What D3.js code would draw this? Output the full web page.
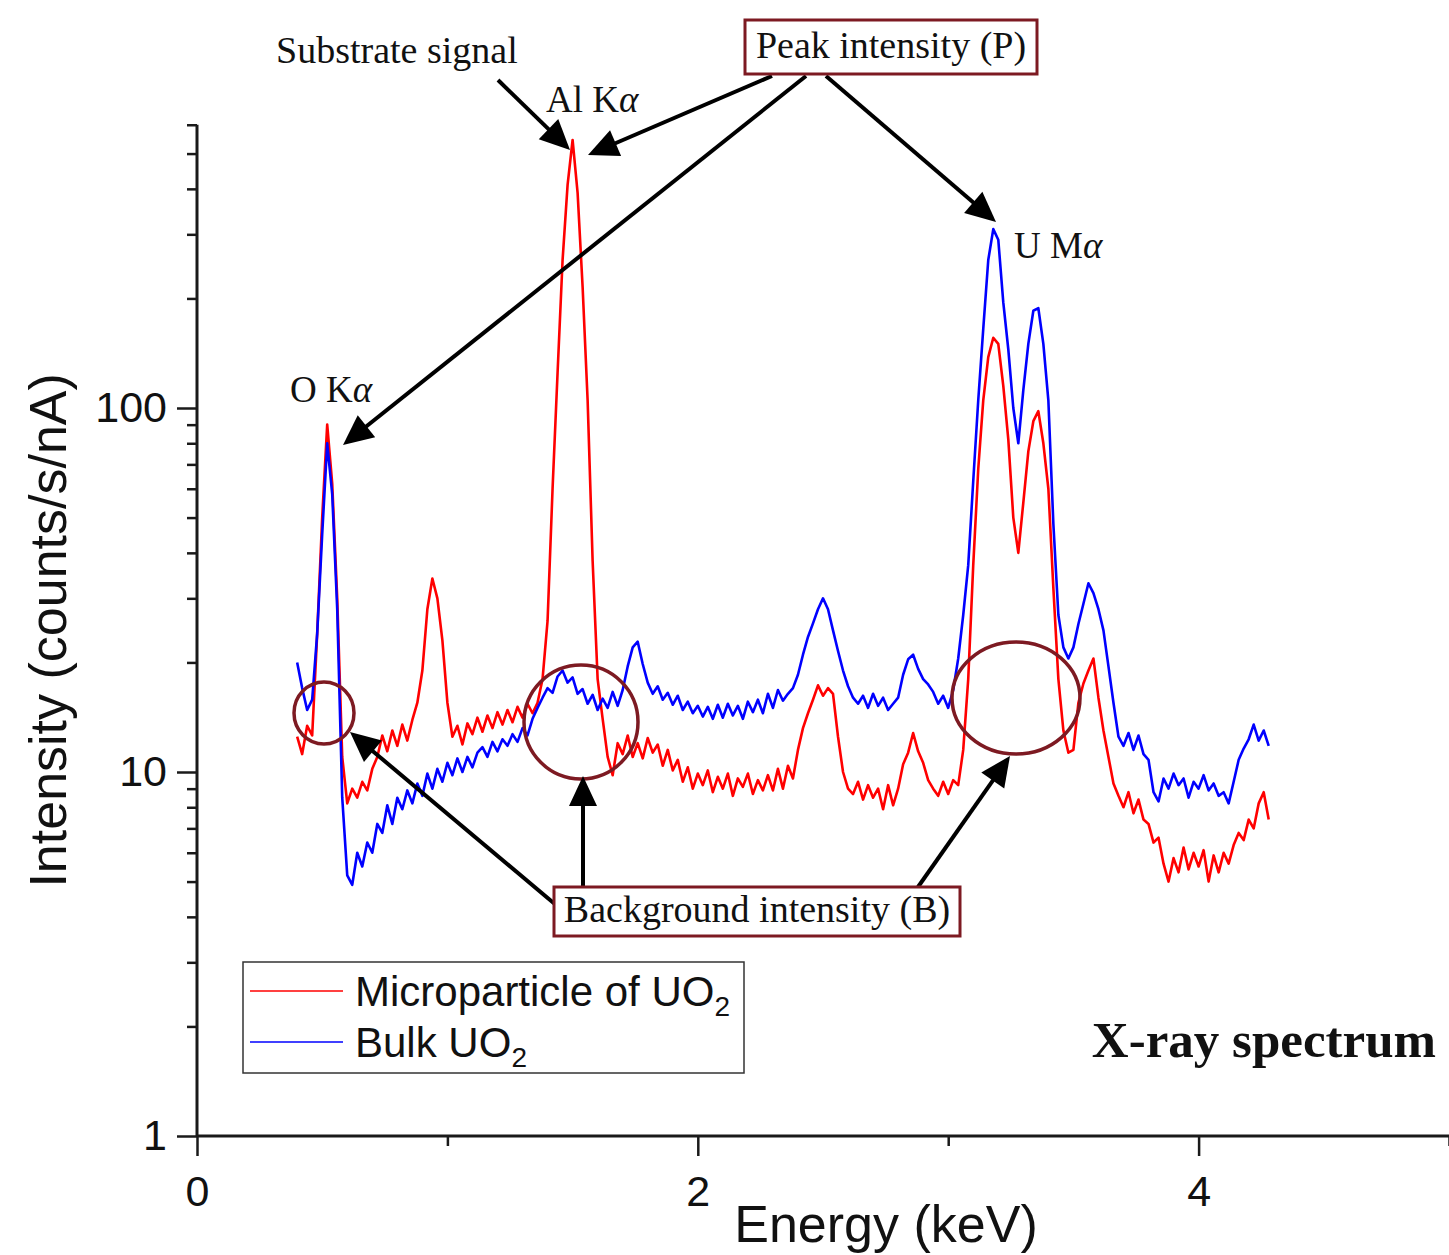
<!DOCTYPE html>
<html><head><meta charset="utf-8">
<script src="https://cdn.jsdelivr.net/npm/d3@7"></script>
<style>body{margin:0;background:#fff}svg{display:block}</style>
</head><body><svg id="c" width="1449" height="1255"></svg>
<script>
// Energy (keV)
const energy = [
0.40,0.42,0.44,0.46,0.48,0.50,0.52,0.54,0.56,0.58,
0.60,0.62,0.64,0.66,0.68,0.70,0.72,0.74,0.76,0.78,
0.80,0.82,0.84,0.86,0.88,0.90,0.92,0.94,0.96,0.98,
1.00,1.02,1.04,1.06,1.08,1.10,1.12,1.14,1.16,1.18,
1.20,1.22,1.24,1.26,1.28,1.30,1.32,1.34,1.36,1.38,
1.40,1.42,1.44,1.46,1.48,1.50,1.52,1.54,1.56,1.58,
1.60,1.62,1.64,1.66,1.68,1.70,1.72,1.74,1.76,1.78,
1.80,1.82,1.84,1.86,1.88,1.90,1.92,1.94,1.96,1.98,
2.00,2.02,2.04,2.06,2.08,2.10,2.12,2.14,2.16,2.18,
2.20,2.22,2.24,2.26,2.28,2.30,2.32,2.34,2.36,2.38,
2.40,2.42,2.44,2.46,2.48,2.50,2.52,2.54,2.56,2.58,
2.60,2.62,2.64,2.66,2.68,2.70,2.72,2.74,2.76,2.78,
2.80,2.82,2.84,2.86,2.88,2.90,2.92,2.94,2.96,2.98,
3.00,3.02,3.04,3.06,3.08,3.10,3.12,3.14,3.16,3.18,
3.20,3.22,3.24,3.26,3.28,3.30,3.32,3.34,3.36,3.38,
3.40,3.42,3.44,3.46,3.48,3.50,3.52,3.54,3.56,3.58,
3.60,3.62,3.64,3.66,3.68,3.70,3.72,3.74,3.76,3.78,
3.80,3.82,3.84,3.86,3.88,3.90,3.92,3.94,3.96,3.98,
4.00,4.02,4.04,4.06,4.08,4.10,4.12,4.14,4.16,4.18,
4.20,4.22,4.24,4.26,4.28];

// Microparticle of UO2 (counts/s/nA)
const microparticle = [
12.5,11.2,13.4,12.6,24,50,90,62,30,11,
8.2,9.0,8.5,9.4,8.9,10.2,11.0,12.6,11.4,13.0,
11.8,13.5,12.2,13.9,15.5,19,28,34,30,23,
15.5,12.5,13.4,11.9,13.6,12.7,14.1,12.9,14.3,13.2,
14.6,13.5,14.8,13.7,15.1,14.1,15.4,14.5,15.5,18,
26,60,125,255,410,545,390,215,105,38,
18,14,11,9.8,12.0,11.2,12.6,11.0,12.0,10.9,
12.4,11.3,11.9,10.4,11.5,10.1,10.8,9.4,10.3,9.0,
9.9,9.2,10.1,8.8,9.7,9.0,9.9,8.6,9.6,9.1,
9.9,8.7,9.5,8.9,9.8,8.9,10.2,9.0,10.4,9.6,
11.5,13.2,14.5,15.8,17.3,16.2,17.0,16.4,12.5,10.0,
9.0,8.7,9.4,8.4,9.2,8.5,9.0,7.9,9.2,8.1,
9.0,10.5,11.3,12.8,11.4,10.6,9.5,9.0,8.6,9.4,
8.7,9.5,9.2,11.5,18,37,68,105,138,156,
150,115,82,50,40,55,76,92,98,80,
60,32,18,13,11.3,11.5,15.5,17.5,19,20.5,
16,13,11,9.3,8.6,8.0,8.8,7.7,8.4,7.4,
7.2,6.4,6.6,5.6,5.0,5.8,5.3,6.2,5.4,6.0,
5.5,6.1,5.0,5.9,5.3,6.0,5.6,6.3,6.8,6.5,
7.4,7.0,8.2,8.8,7.4];

// Bulk UO2 (counts/s/nA)
const bulk = [
20.0,17.0,14.8,15.8,24,45,80,58,28,8.5,
5.2,4.9,6.0,5.5,6.4,6.0,7.2,6.8,8.1,7.2,
8.5,7.9,8.9,8.2,9.3,8.6,9.9,9.0,10.2,9.4,
10.6,9.8,10.9,10.0,11.0,10.3,11.3,11.7,11.0,12.1,
11.4,12.3,11.8,12.7,12.1,13.2,12.6,14.0,15.0,16.0,
17.0,16.5,18.3,19.0,17.6,18.2,16.4,16.9,15.4,16.3,
14.8,15.9,15.0,16.6,15.2,16.8,19.5,22.0,22.8,19.8,
17.6,16.4,17.2,15.8,16.5,15.3,16.2,14.8,15.6,14.5,
15.2,14.2,15.1,14.0,15.3,14.1,15.4,14.3,15.2,14.0,
15.6,14.6,15.8,14.5,16.4,15.0,16.8,15.7,16.4,17.0,
18.5,21.0,23.5,25.6,28.0,30.0,28.0,24.5,21.5,19.0,
17.2,16.0,15.4,16.2,15.0,16.4,15.2,16.0,14.8,15.4,
16.0,18.5,20.4,21.0,19.2,18.0,17.4,16.6,15.4,16.2,
15.0,16.8,20.5,27,37,63,105,165,255,310,
290,195,145,100,80,112,150,185,188,150,
105,48,27,22,20.5,22,25.5,29,33,31,
28,24.5,19.5,15.5,12.5,11.8,12.8,11.5,12.6,11.2,
10.8,8.8,8.3,9.6,9.0,9.9,9.2,9.6,8.5,9.4,
9.0,9.8,8.9,9.3,8.6,8.8,8.2,9.4,10.8,11.6,
12.3,13.5,12.2,13.0,11.8];

const seriesNames = ["Microparticle of UO", "Bulk UO"];
const seriesColors = ["#ff0000", "#0000ff"];
const xMajorTicks = [0, 2, 4];
const xMinorTicks = [1, 3, 5];
const yMajorTicks = [1, 10, 100];
const yTickLabels = ["1", "10", "100"];

const W = 1449, H = 1255;
const svg = d3.select("#c");
svg.append("rect").attr("width", W).attr("height", H).attr("fill", "#fff");

const x = d3.scaleLinear().domain([0, 5]).range([197, 1449]);
const y = d3.scaleLog().domain([1, 600]).range([1136, 1136 - 364 * Math.log10(600)]);

const sans = "'Liberation Sans', Arial, sans-serif";
const serif = "'Liberation Serif', 'Times New Roman', serif";
const axisColor = "#1a1a1a";
const boxRed = "#7d1a22";

// ---- axes ----
const yMinor = y.ticks().filter(v => !yMajorTicks.includes(v));
const gyMinor = svg.append("g").attr("transform", `translate(${x(0)},0)`)
  .call(d3.axisLeft(y).tickValues(yMinor).tickSize(10).tickFormat(""));
const gyMajor = svg.append("g").attr("transform", `translate(${x(0)},0)`)
  .call(d3.axisLeft(y).tickValues(yMajorTicks).tickSize(20).tickPadding(10)
    .tickFormat((d, i) => yTickLabels[i]));
const gxMinor = svg.append("g").attr("transform", `translate(0,${y(1)})`)
  .call(d3.axisBottom(x).tickValues(xMinorTicks).tickSize(10).tickFormat(""));
const gxMajor = svg.append("g").attr("transform", `translate(0,${y(1)})`)
  .call(d3.axisBottom(x).tickValues(xMajorTicks).tickSize(20).tickPadding(19)
    .tickFormat(d3.format("d")));
[gyMinor, gyMajor, gxMinor, gxMajor].forEach(g => {
  g.select(".domain").remove();
  g.selectAll(".tick line").attr("stroke", axisColor).attr("stroke-width", 2.5);
  g.selectAll(".tick text").attr("fill", "#111").attr("font-family", sans).attr("font-size", 43);
});
svg.append("line").attr("x1", x(0)).attr("x2", x(0)).attr("y1", y(600)).attr("y2", y(1))
  .attr("stroke", axisColor).attr("stroke-width", 3);
svg.append("line").attr("x1", x(0)).attr("x2", x(5)).attr("y1", y(1)).attr("y2", y(1))
  .attr("stroke", axisColor).attr("stroke-width", 3);

// axis titles
svg.append("text").attr("transform", `translate(66,${(y(1) + y(600)) / 2}) rotate(-90)`)
  .attr("text-anchor", "middle").attr("font-family", sans).attr("font-size", 52).attr("fill", "#111")
  .text("Intensity (counts/s/nA)");
svg.append("text").attr("x", 886).attr("y", 1242).attr("text-anchor", "middle")
  .attr("font-family", sans).attr("font-size", 52).attr("fill", "#111").text("Energy (keV)");

// ---- data lines ----
const line = d3.line().x((d, i) => x(energy[i])).y(d => y(d));
[microparticle, bulk].forEach((s, k) => {
  svg.append("path").datum(s).attr("d", line).attr("fill", "none")
    .attr("stroke", seriesColors[k]).attr("stroke-width", 2.6).attr("stroke-linejoin", "round");
});

// ---- ellipses ----
const ell = [[324, 713, 30, 31], [581, 722, 57, 57], [1016, 698, 64, 56]];
ell.forEach(e => svg.append("ellipse").attr("cx", e[0]).attr("cy", e[1]).attr("rx", e[2]).attr("ry", e[3])
  .attr("fill", "none").attr("stroke", boxRed).attr("stroke-width", 3.5));

// ---- arrows ----
function arrow(x1, y1, x2, y2) {
  const dx = x2 - x1, dy = y2 - y1, L = Math.hypot(dx, dy);
  const ux = dx / L, uy = dy / L, hl = 30, hw = 14;
  const bx = x2 - ux * hl, by = y2 - uy * hl;
  svg.append("line").attr("x1", x1).attr("y1", y1).attr("x2", bx + ux * 4).attr("y2", by + uy * 4)
    .attr("stroke", "#000").attr("stroke-width", 4);
  svg.append("polygon").attr("points",
    `${x2},${y2} ${bx - uy * hw},${by + ux * hw} ${bx + uy * hw},${by - ux * hw}`).attr("fill", "#000");
}
arrow(498, 80, 570, 150);
arrow(772, 76, 588, 155);
arrow(806, 76, 343, 445);
arrow(826, 76, 996, 222);
arrow(556, 905, 350, 732);
arrow(583, 887, 583, 776);
arrow(918, 887, 1010, 756);

// ---- boxes & labels ----
svg.append("rect").attr("x", 745).attr("y", 20).attr("width", 292).attr("height", 54)
  .attr("fill", "#fff").attr("stroke", boxRed).attr("stroke-width", 3);
svg.append("text").attr("x", 891).attr("y", 58).attr("text-anchor", "middle")
  .attr("font-family", serif).attr("font-size", 38).attr("fill", "#111").text("Peak intensity (P)");
svg.append("rect").attr("x", 554).attr("y", 887).attr("width", 406).attr("height", 49)
  .attr("fill", "#fff").attr("stroke", boxRed).attr("stroke-width", 3);
svg.append("text").attr("x", 757).attr("y", 922).attr("text-anchor", "middle")
  .attr("font-family", serif).attr("font-size", 38).attr("fill", "#111").text("Background intensity (B)");
svg.append("text").attr("x", 276).attr("y", 63)
  .attr("font-family", serif).attr("font-size", 38).attr("fill", "#111").text("Substrate signal");

function lineLabel(xp, yp, main) {
  const t = svg.append("text").attr("x", xp).attr("y", yp).attr("font-family", serif)
    .attr("font-size", 37).attr("fill", "#111");
  t.append("tspan").text(main);
  t.append("tspan").attr("font-style", "italic").text("α");
}
lineLabel(546, 112, "Al K");
lineLabel(290, 402, "O K");
lineLabel(1014, 258, "U M");

svg.append("text").attr("x", 1436).attr("y", 1057).attr("text-anchor", "end")
  .attr("font-family", serif).attr("font-weight", "bold").attr("font-size", 51).attr("fill", "#111")
  .text("X-ray spectrum");

// ---- legend ----
svg.append("rect").attr("x", 243).attr("y", 962).attr("width", 501).attr("height", 111)
  .attr("fill", "#fff").attr("stroke", "#333").attr("stroke-width", 1.5);
seriesNames.forEach((n, k) => {
  const ly = 991 + k * 51;
  svg.append("line").attr("x1", 250).attr("x2", 343).attr("y1", ly).attr("y2", ly)
    .attr("stroke", seriesColors[k]).attr("stroke-width", 1.6);
  const t = svg.append("text").attr("x", 355).attr("y", ly + 15).attr("font-family", sans)
    .attr("font-size", 42).attr("fill", "#111");
  t.append("tspan").text(n);
  t.append("tspan").attr("font-size", 28).attr("dy", 10).text("2");
});
</script>
</body></html>
